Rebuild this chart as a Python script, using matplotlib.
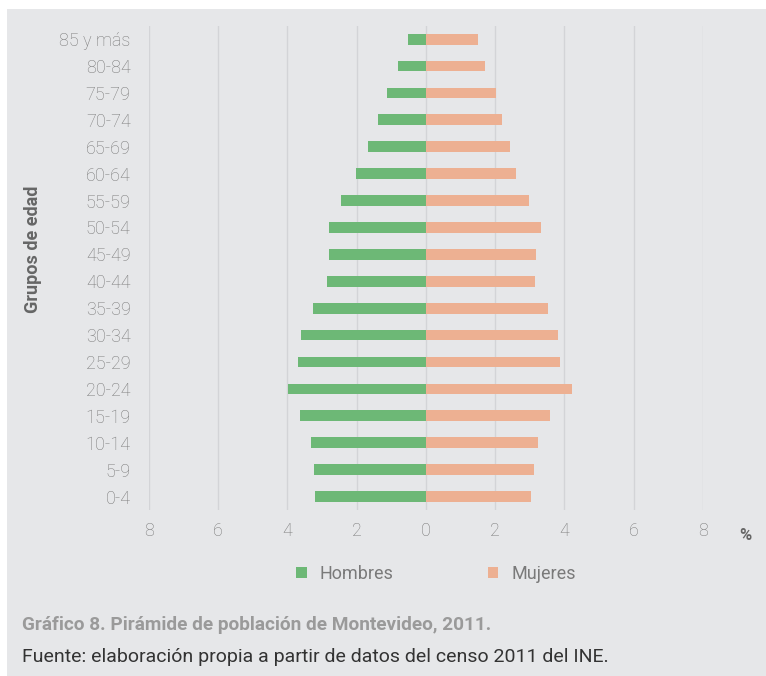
import matplotlib
matplotlib.use("Agg")
import matplotlib.pyplot as plt
from matplotlib.patches import Rectangle

grupos = ["0-4", "5-9", "10-14", "15-19", "20-24", "25-29", "30-34", "35-39",
          "40-44", "45-49", "50-54", "55-59", "60-64", "65-69", "70-74",
          "75-79", "80-84", "85 y más"]
hombres = [3.21, 3.24, 3.31, 3.63, 3.97, 3.68, 3.60, 3.27,
           2.86, 2.80, 2.80, 2.45, 2.01, 1.68, 1.39, 1.13, 0.81, 0.51]
mujeres = [3.04, 3.11, 3.23, 3.58, 4.22, 3.88, 3.81, 3.52,
           3.15, 3.18, 3.32, 2.98, 2.61, 2.42, 2.19, 2.03, 1.72, 1.51]
xticks = [-8, -6, -4, -2, 0, 2, 4, 6, 8]

verde = "#6db876"
salmon = "#edb092"
fondo = "#e6e7e9"
gris = "#7a7a7a"

plt.rcParams["font.family"] = ["Roboto", "DejaVu Sans"]

fig = plt.figure(figsize=(7.66, 6.76), dpi=100, facecolor="white")
fig.patches.append(Rectangle((7 / 766, 0), 1, 1 - 9 / 676, transform=fig.transFigure,
                             facecolor=fondo, edgecolor="none", zorder=-10))

ax = fig.add_axes([148.7 / 766, 1 - 510 / 676, (702.9 - 148.7) / 766, (510 - 25.7) / 676])
ax.set_facecolor("none")

y = list(range(len(grupos)))
ax.barh(y, [-h for h in hombres], height=0.4, color=verde, label="Hombres", zorder=3)
ax.barh(y, mujeres, height=0.4, color=salmon, label="Mujeres", zorder=3)

ax.set_xlim(-8, 8)
ax.set_ylim(-0.5, len(grupos) - 0.5)
ax.set_xticks(xticks)
ax.set_xticklabels([str(abs(t)) for t in xticks], fontsize=13, color=gris, fontweight="light")
ax.set_yticks(y)
ax.set_yticklabels(grupos, fontsize=13, color=gris, fontweight="light")
ax.tick_params(axis="both", length=0)
ax.tick_params(axis="y", pad=13)
ax.tick_params(axis="x", pad=9)
ax.grid(axis="x", color="#d3d4d7", linewidth=1, zorder=1)
for s in ax.spines.values():
    s.set_visible(False)

fig.text(33 / 766, 1 - 249 / 676, "Grupos de edad", fontsize=13, fontweight="bold",
         color="#666666", rotation=90, ha="center", va="center")

fig.text(745 / 766, 1 - 535 / 676, "%", fontsize=12, fontweight="bold",
         color="#666666", ha="center", va="center")

ax.legend(loc="center", bbox_to_anchor=((436 - 148.7) / (702.9 - 148.7), (510 - 574) / (510 - 25.7)),
          ncol=2, frameon=False, fontsize=13, labelcolor=gris,
          handlelength=0.6, handleheight=0.6, columnspacing=5.2, handletextpad=0.7)

fig.text(22 / 766, 1 - 625 / 676, "Gráfico 8. Pirámide de población de Montevideo, 2011.",
         fontsize=13.7, fontweight="bold", color="#9a9a9a", va="center")
fig.text(22 / 766, 1 - 657 / 676, "Fuente: elaboración propia a partir de datos del censo 2011 del INE.",
         fontsize=14, color="#333333", va="center")

fig.savefig("out.png", dpi=100, facecolor="white")
